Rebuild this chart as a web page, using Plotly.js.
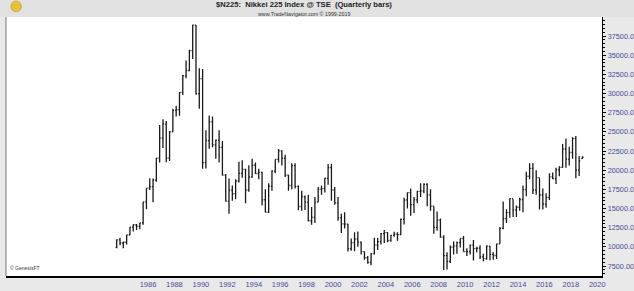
<!DOCTYPE html>
<html><head><meta charset="utf-8">
<script src="https://cdn.plot.ly/plotly-3.0.1.min.js"></script>
<style>html,body{margin:0;padding:0;background:#fff}#chart{width:634px;height:291px}</style>
</head><body><div id="chart"></div>
<script>
// Quarterly bars, first quarter = 1984 Q1
const startYear = 1984;
const openV = [
9927,10900,10500,10600, 11543,12580,12880,12700, 13113,15860,17650,17850, 18701,21560,24176,26010,
21564,25000,27800,27900, 30159,32300,33000,35600, 38916,29980,31940,20984, 23849,26292,23290,23916,
22984,19345,15951,17399, 16925,18591,19590,20106, 17417,19111,20644,19564, 19723,16139,14517,17913,
19868,21407,22530,21556, 19361,18003,20605,17888, 15259,16527,15830,13406, 13842,15837,17530,17605,
18934,20337,17411,15747, 13786,12999,12969,9775, 10543,11025,10622,9383, 8579,7973,9083,10219,
10677,11715,11858,10824, 11489,11668,11584,13574, 16111,17059,15505,16128, 17226,17288,18138,16786,
15308,12526,13481,11260, 8860,8110,9958,10133, 10546,11090,9383,9369, 10229,9755,9816,8700,
8455,10084,9007,8870, 10395,12398,13677,14456, 16291,14828,15162,16174, 17451,19207,20236,17388,
19034,16759,15576,16450, 19114,18909,20033,20356, 22765,21454,22305,24120, 20015,21500];
const highV = [
11000,11190,10650,11550, 12580,12900,12980,13130, 15860,17650,18936,18900, 21600,25900,26646,26400,
25100,28000,28400,30200, 32400,34300,35700,38957, 38950,33300,33200,25200, 27146,27000,24000,25200,
23800,19500,18900,18000, 18800,21100,21281,20200, 20650,21500,21000,20200, 19800,17500,18300,20000,
21400,22750,22600,22000, 19400,20900,20900,18000, 17300,16700,16800,15200, 16500,17800,18000,19000,
20800,20833,17800,16500, 14300,14500,13000,11100, 11900,12000,10700,9400, 8800,9200,11200,11200,
11800,12200,11900,11500, 11980,11900,13700,16400, 17100,17600,16500,17300, 18300,18300,18300,17500,
15300,14600,13700,11500, 9300,10170,10700,10700, 11100,11400,9800,10300, 10900,10000,10200,9100,
10200,10100,9300,10400, 12600,15900,14900,16320, 16200,15400,16400,18000, 19800,20900,20950,20000,
18950,17600,17000,19600, 19700,20300,20500,23400, 24129,23050,24300,24448, 21860,21800];
const lowV = [
9800,10200,9800,10300, 11540,12000,12200,12290, 12880,14900,17400,15800, 18500,21000,22900,21036,
21200,25000,27000,27100, 29800,32000,32900,34500, 29843,28000,20200,20221, 22800,23000,21500,21000,
19300,15900,14309,16000, 16200,18400,19000,15700, 17200,19000,19500,18800, 15381,14485,14400,17300,
19600,21000,20600,19100, 17300,17500,17600,14775, 14700,14800,13300,12880, 13100,15800,16800,17100,
18100,16000,15500,13400, 11800,12400,9382,9500, 9420,10000,9000,8300, 7800,7603,9000,9600,
10300,10500,10600,10650, 11300,10800,11500,12900, 15000,14045,14400,15700, 16500,17000,15300,14700,
11700,12100,11200,6994, 7054,7900,9000,9100, 9900,9400,8800,9000, 8227,9300,8400,8135,
8300,8238,8300,8400, 10400,12300,13100,13800, 13900,13900,14700,14500, 16600,18800,16900,16800,
14865,14864,15100,16100, 18800,18200,19200,20300, 20300,20600,21500,18948, 19241,21500];
const closeV = [
10900,10500,10600,11543, 12580,12880,12700,13113, 15860,17650,17850,18701, 21560,24176,26010,21564,
25000,27800,27900,30159, 32300,33000,35600,38916, 29980,31940,20984,23849, 26292,23290,23916,22984,
19345,15951,17399,16925, 18591,19590,20106,17417, 19111,20644,19564,19723, 16139,14517,17913,19868,
21407,22530,21556,19361, 18003,20605,17888,15259, 16527,15830,13406,13842, 15837,17530,17605,18934,
20337,17411,15747,13786, 12999,12969,9775,10543, 11025,10622,9383,8579, 7973,9083,10219,10677,
11715,11858,10824,11489, 11668,11584,13574,16111, 17059,15505,16128,17226, 17288,18138,16786,15308,
12526,13481,11260,8860, 8110,9958,10133,10546, 11090,9383,9369,10229, 9755,9816,8700,8455,
10084,9007,8870,10395, 12398,13677,14456,16291, 14828,15162,16174,17451, 19207,20236,17388,19034,
16759,15576,16450,19114, 18909,20033,20356,22765, 21454,22305,24120,20015, 21206,21700];
const yearTicks = [1986,1988,1990,1992,1994,1996,1998,2000,2002,2004,2006,2008,2010,2012,2014,2016,2018,2020];

const xq = openV.map((_, i) => startYear + i / 4);

const lineStyle = {color: '#1a1a1a', width: 1.3};
const trace = {
  type: 'ohlc', x: xq, open: openV, high: highV, low: lowV, close: closeV,
  increasing: {line: lineStyle}, decreasing: {line: lineStyle},
  tickwidth: 0.35, hoverinfo: 'skip', showlegend: false
};

const layout = {
  width: 634, height: 291,
  margin: {l: 6, r: 32, t: 17, b: 15, pad: 0},
  paper_bgcolor: '#e9e9e9', plot_bgcolor: '#ffffff',
  font: {family: 'Liberation Sans, Arial, sans-serif', size: 7.3, color: '#4a4a98'},
  title: {text: '<b>$N225:\u00a0 Nikkei 225 Index @ TSE\u00a0 (Quarterly bars)</b>',
          font: {size: 7.6, color: '#222', family: 'Liberation Sans, Arial, sans-serif'},
          x: 0.5, xref: 'paper', y: 0.984, yref: 'container', yanchor: 'middle', xanchor: 'center'},
  xaxis: {
    range: [1975.62, 2020.73], showgrid: false, zeroline: false,
    rangeslider: {visible: false},
    tickvals: yearTicks.map(y => y + 0.37), ticktext: yearTicks.map(String),
    ticks: '', showline: true, linecolor: '#000', linewidth: 1.5,
    tickfont: {size: 7.5, color: '#4a4a98'}, fixedrange: true
  },
  yaxis: {
    side: 'right', range: [6196, 39980], showgrid: false, zeroline: false,
    dtick: 2500, tick0: 0, tickformat: '.6r',
    ticks: 'outside', ticklen: 3, tickcolor: '#000', tickwidth: 1,
    minor: {dtick: 500, ticks: 'outside', ticklen: 2, tickcolor: '#000'},
    showline: true, linecolor: '#000', linewidth: 1.2,
    tickfont: {size: 7.3, color: '#4a4a98'}, fixedrange: true
  },
  shapes: [
    {type: 'rect', xref: 'paper', yref: 'paper', x0: -0.02, x1: 1.06, y0: 1, y1: 1.075,
     fillcolor: '#e2e2e2', line: {width: 0}, layer: 'below'},
    {type: 'line', xref: 'paper', yref: 'paper', x0: 0, x1: 0, y0: 0, y1: 1,
     line: {color: '#8a8a8a', width: 1.2}},
    {type: 'circle', xref: 'paper', yref: 'paper', x0: 0.008, x1: 0.026, y0: 1.02, y1: 1.062,
     fillcolor: '#e8c040', line: {color: '#b08a20', width: 0.5}}
  ],
  annotations: [
    {text: 'www.TradeNavigator.com \u00a9 1999-2019', xref: 'paper', yref: 'paper', x: 0.5, y: 0.996,
     xanchor: 'center', yanchor: 'bottom', showarrow: false, borderpad: 0,
     font: {size: 5.3, color: '#333'}},
    {text: '\u00a9 GenesisFT', xref: 'paper', yref: 'paper', x: 0.004, y: 0.01,
     xanchor: 'left', yanchor: 'bottom', showarrow: false,
     font: {size: 5, color: '#333'}}
  ]
};

Plotly.newPlot('chart', [trace], layout, {staticPlot: true, displayModeBar: false});
</script>
</body></html>
